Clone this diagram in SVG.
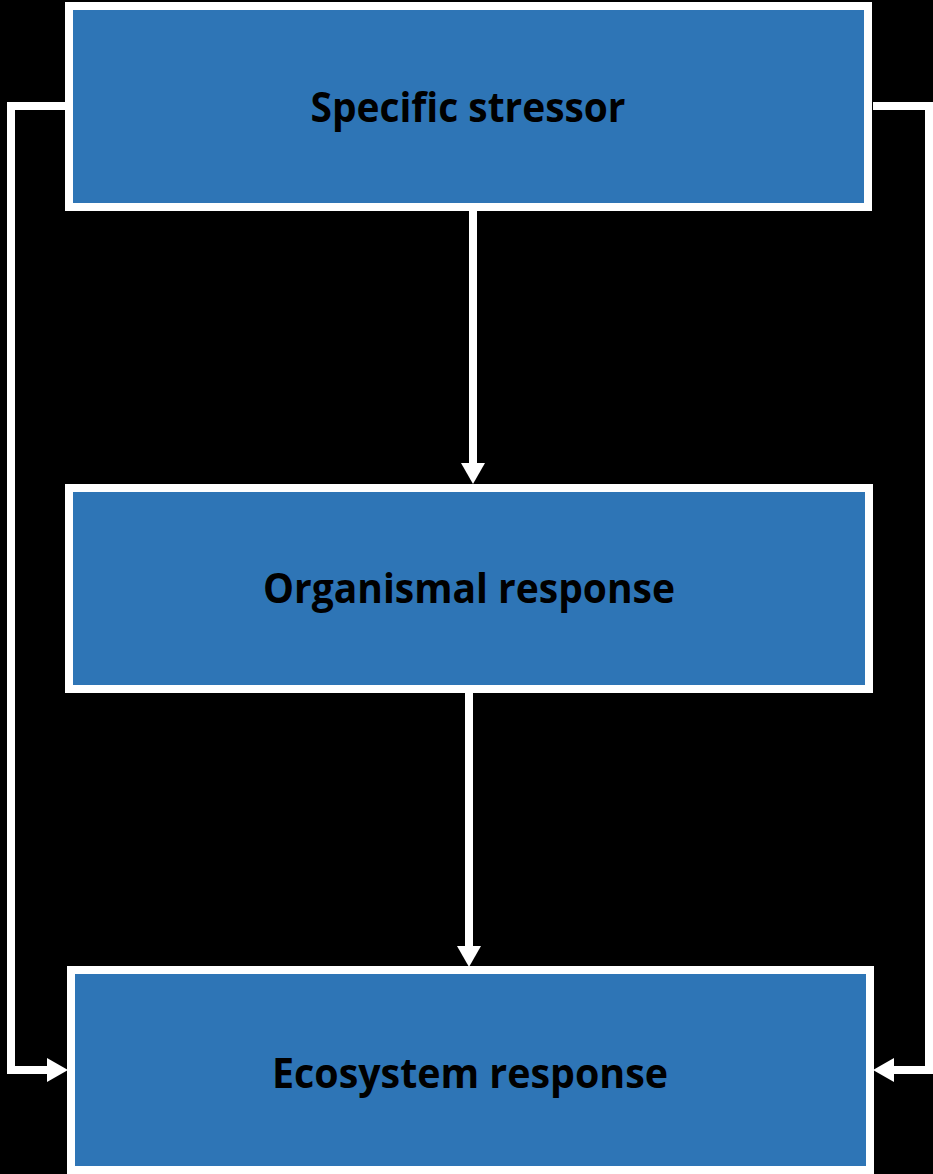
<svg xmlns="http://www.w3.org/2000/svg" width="933" height="1174" viewBox="0 0 933 1174">
  <style>
    .box { fill: #2E75B6; stroke: #FFFFFF; stroke-width: 8; }
    .label { font-family: "Open Sans", "Liberation Sans", sans-serif; font-weight: bold; font-size: 42px; fill: #000000; text-anchor: middle; }
    .conn { fill: none; stroke: #FFFFFF; stroke-width: 8; stroke-linejoin: miter; stroke-linecap: butt; }
  </style>
  <defs>
    <marker id="arrow" markerUnits="userSpaceOnUse" markerWidth="22" markerHeight="24" refX="0" refY="12" orient="auto" viewBox="0 0 22 24">
      <path d="M0,0 L21,12 L0,24 Z" fill="#FFFFFF"/>
    </marker>
  </defs>
  <rect x="0" y="0" width="933" height="1174" fill="#000000"/>
  <g id="connectors">
    <path class="conn" d="M473,211 V463" marker-end="url(#arrow)"/>
    <path class="conn" d="M469,693 V946" marker-end="url(#arrow)"/>
    <path class="conn" d="M65,106 H11 V1070 H47" marker-end="url(#arrow)"/>
    <path class="conn" d="M873,106 H929 V1070 H894" marker-end="url(#arrow)"/>
  </g>
  <g id="specific-stressor">
    <rect class="box" x="69" y="6" width="799" height="201"/>
    <text class="label" x="468" y="122" textLength="315" lengthAdjust="spacingAndGlyphs">Specific stressor</text>
  </g>
  <g id="organismal-response">
    <rect class="box" x="69" y="488" width="800" height="201"/>
    <text class="label" x="469" y="603" textLength="412" lengthAdjust="spacingAndGlyphs">Organismal response</text>
  </g>
  <g id="ecosystem-response">
    <rect class="box" x="71" y="970" width="799" height="200"/>
    <text class="label" x="470" y="1088" textLength="396" lengthAdjust="spacingAndGlyphs">Ecosystem response</text>
  </g>
</svg>
